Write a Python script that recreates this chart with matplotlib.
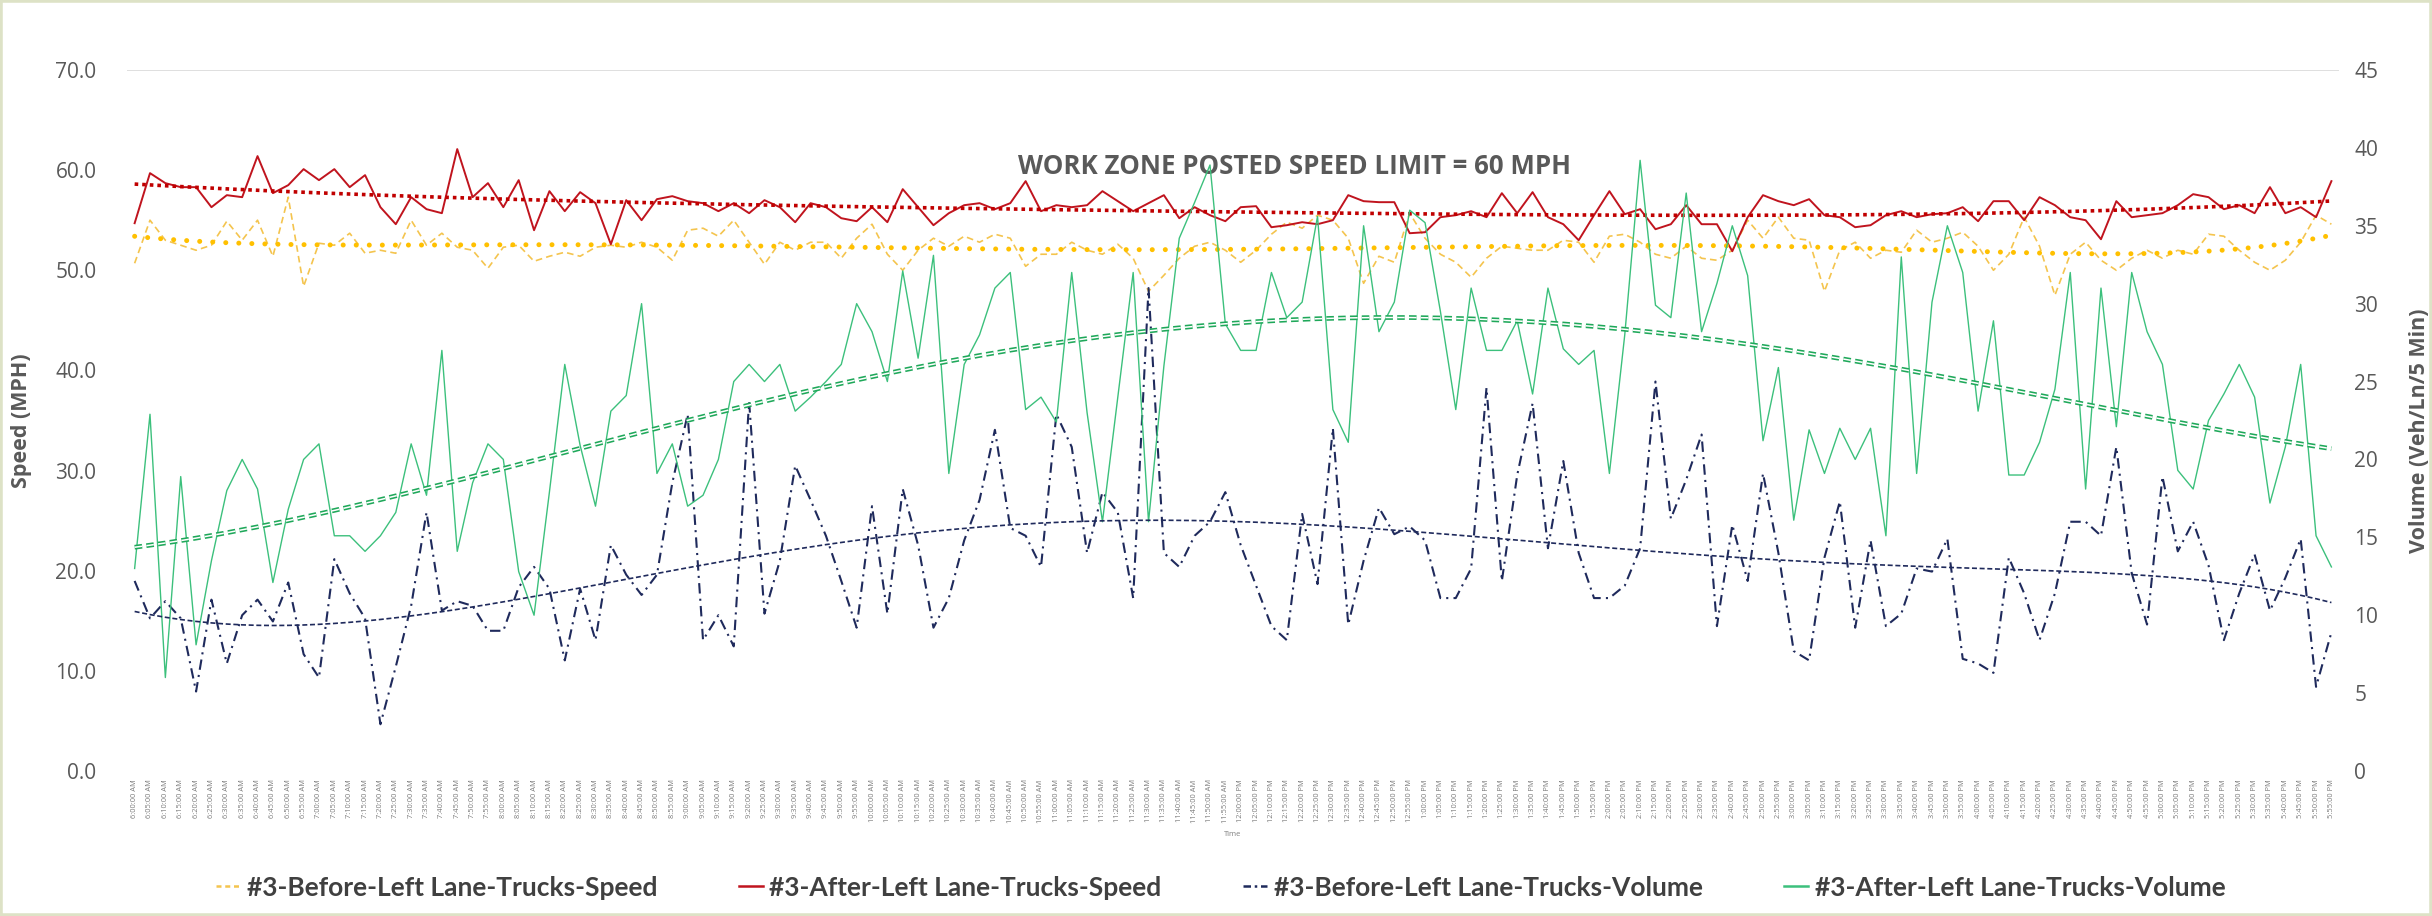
import numpy as np
import pandas as pd
import matplotlib
matplotlib.use("Agg")
import matplotlib.pyplot as plt
from matplotlib.lines import Line2D
from matplotlib.patches import Rectangle
from numpy.polynomial import Polynomial

# ---------------- data ----------------
time_labels = list(pd.date_range("2020-01-01 06:00", periods=144, freq="5min").strftime("%-I:%M:%S %p"))

before_speed = [
    50.7, 55.0, 53.0, 52.5, 52.0, 52.5, 54.9, 53.0, 55.0, 51.4, 57.3, 48.4, 52.7, 52.5, 53.7, 51.7,
    52.0, 51.7, 55.0, 52.5, 53.7, 52.3, 52.0, 50.2, 52.3, 52.5, 50.9, 51.4, 51.8, 51.4, 52.3, 52.5,
    52.3, 52.8, 52.3, 51.0, 54.0,
    54.2, 53.4, 55.0, 52.8, 50.6, 52.8, 52.0, 52.8, 52.8, 51.2, 53.2, 54.6, 51.6, 50.0, 52.0, 53.2,
    52.4, 53.4, 52.8, 53.6, 53.2, 50.4, 51.6, 51.6, 52.8, 52.0, 51.6, 52.6, 51.2, 47.9, 49.5, 51.2,
    52.4, 52.8, 52.0, 50.8, 52.0,
    53.6, 54.8, 54.2, 55.5, 55.0, 53.2, 48.7, 51.4, 50.8, 55.7, 53.2, 51.6, 50.8, 49.3, 51.2, 52.4,
    52.2, 52.0, 52.0, 53.0, 52.8, 50.8, 53.4, 53.6, 52.8, 51.6, 51.2, 52.4, 51.2, 51.0, 52.0, 55.0,
    53.2, 55.3, 53.2, 53.0, 47.9,
    52.0, 52.8, 51.2, 52.0, 51.8, 54.0, 52.8, 53.2, 53.8, 52.4, 50.0, 51.6, 55.3, 52.4, 47.5, 51.6,
    52.8, 51.0, 50.0, 51.2, 52.0, 51.2, 52.0, 51.6, 53.6, 53.4, 52.0, 50.8, 50.0, 51.0, 52.8, 55.5,
    54.6,
]

after_speed = [
    54.7, 59.7, 58.7, 58.3, 58.3, 56.3, 57.5, 57.3, 61.4, 57.7, 58.5, 60.1, 59.0, 60.1, 58.3, 59.5,
    56.3, 54.6, 57.3, 56.1, 55.7, 62.1, 57.3, 58.7, 56.3, 59.0, 54.0, 57.9, 55.9, 57.8, 56.7, 52.6,
    57.0, 55.0, 57.1, 57.4, 56.9,
    56.7, 55.9, 56.7, 55.7, 57.0, 56.3, 54.8, 56.7, 56.3, 55.2, 54.9, 56.3, 54.8, 58.1, 56.3, 54.5,
    55.7, 56.5, 56.7, 56.1, 56.7, 58.9, 55.9, 56.5, 56.3, 56.5, 57.9, 56.9, 55.9, 56.7, 57.5, 55.2,
    56.3, 55.5, 54.9, 56.3, 56.4,
    54.3, 54.5, 54.8, 54.6, 55.0, 57.5, 56.9, 56.8, 56.8, 53.7, 53.8, 55.3, 55.5, 55.9, 55.3, 57.7,
    55.7, 57.8, 55.3, 54.6, 53.0, 55.5, 57.9, 55.6, 56.1, 54.1, 54.6, 56.5, 54.6, 54.6, 51.9, 55.3,
    57.5, 56.9, 56.5, 57.1, 55.5,
    55.3, 54.3, 54.5, 55.5, 55.9, 55.3, 55.6, 55.7, 56.3, 54.9, 56.9, 56.9, 55.0, 57.3, 56.5, 55.3,
    55.0, 53.1, 56.9, 55.3, 55.5, 55.7, 56.5, 57.6, 57.3, 56.1, 56.5, 55.7, 58.3, 55.7, 56.3, 55.3,
    58.9,
]

before_volume = [
    12.2, 9.8, 10.9, 9.8, 5.1, 11.0, 6.9, 10.0, 11.0, 9.6, 12.1, 7.5, 6.0, 13.6, 11.4, 9.8,
    3.0, 6.7, 10.6, 16.6, 10.3, 10.9, 10.6, 9.0, 9.0, 11.8, 13.1, 11.7, 7.1, 11.7, 8.4, 14.5,
    12.6, 11.3, 12.6, 18.5, 22.9,
    8.4, 10.0, 8.0, 23.7, 10.1, 13.5, 19.6, 17.4, 15.1, 12.2, 9.2, 17.0, 10.1, 18.1, 14.5, 9.2,
    11.1, 14.8, 17.4, 21.9, 15.6, 15.1, 13.1, 22.9, 20.8, 14.0, 17.9, 16.6, 11.1, 31.0, 14.0, 13.1,
    15.1, 16.0, 17.9, 14.5, 11.9,
    9.3, 8.4, 16.5, 12.0, 22.0, 9.4, 13.5, 16.9, 15.2, 15.7, 14.8, 11.1, 11.1, 13.0, 24.6, 12.2,
    19.0, 23.6, 14.3, 19.9, 14.0, 11.1, 11.1, 11.9, 14.3, 25.0, 16.2, 18.7, 21.6, 9.3, 15.8, 12.2,
    19.1, 14.0, 7.7, 7.1, 13.7,
    17.3, 9.2, 14.8, 9.3, 10.1, 13.0, 12.8, 14.9, 7.2, 6.9, 6.3, 13.7, 11.4, 8.4, 11.4, 16.0,
    16.0, 15.1, 20.8, 12.7, 9.4, 18.9, 14.1, 16.0, 13.2, 8.4, 11.4, 13.9, 10.3, 12.4, 14.9, 5.4,
    8.9,
]

after_volume = [
    13.0, 22.9, 6.0, 18.9, 8.1, 13.5, 18.0, 20.0, 18.1, 12.1, 16.8, 20.0, 21.0, 15.1, 15.1, 14.1,
    15.1, 16.6, 21.0, 17.7, 27.0, 14.1, 18.5, 21.0, 20.0, 12.8, 10.0, 17.9, 26.1, 20.9, 17.0, 23.1,
    24.1, 30.0, 19.1, 21.0, 17.0,
    17.7, 20.0, 25.0, 26.1, 25.0, 26.1, 23.1, 24.0, 25.0, 26.1, 30.0, 28.2, 25.0, 32.1, 26.5, 33.1,
    19.1, 26.1, 28.0, 31.0, 32.0, 23.2, 24.0, 22.4, 32.0, 23.0, 16.0, 24.0, 32.0, 16.0, 26.0, 34.2,
    36.5, 38.9, 28.7, 27.0, 27.0,
    32.0, 29.1, 30.1, 35.6, 23.2, 21.1, 35.0, 28.2, 30.1, 36.0, 35.2, 29.5, 23.2, 31.0, 27.0, 27.0,
    28.9, 24.2, 31.0, 27.1, 26.1, 27.0, 19.1, 28.0, 39.2, 29.9, 29.1, 37.1, 28.2, 31.3, 35.0, 31.8,
    21.2, 25.9, 16.1, 21.9, 19.1,
    22.0, 20.0, 22.0, 15.1, 33.0, 19.1, 30.1, 35.0, 32.0, 23.1, 28.9, 19.0, 19.0, 21.1, 24.5, 32.0,
    18.1, 31.0, 22.1, 32.0, 28.2, 26.1, 19.3, 18.1, 22.5, 24.2, 26.1, 24.0, 17.2, 20.8, 26.1, 15.1,
    13.1,
]

series_names = [
    "#3-Before-Left Lane-Trucks-Speed",
    "#3-After-Left Lane-Trucks-Speed",
    "#3-Before-Left Lane-Trucks-Volume",
    "#3-After-Left Lane-Trucks-Volume",
]
speed_ticks = [0, 10, 20, 30, 40, 50, 60, 70]
volume_ticks = [0, 5, 10, 15, 20, 25, 30, 35, 40, 45]
annotation = "WORK ZONE POSTED SPEED LIMIT = 60 MPH"

# ---------------- style ----------------
C_YEL = "#F4C44E"
C_YEL_T = "#FFC000"
C_RED = "#C0141E"
C_RED_T = "#C00000"
C_BLU = "#1F2A5C"
C_GRN = "#3CC07C"
C_GRN_T = "#1FA85A"
TXT = "#595959"

plt.rcParams["font.family"] = ["Open Sans", "DejaVu Sans"]

fig = plt.figure(figsize=(24.32, 9.16), dpi=100)
fig.patch.set_facecolor("white")
ax = fig.add_axes([0.0522, 0.1583, 0.9096, 0.7653])
ax2 = ax.twinx()

x = np.arange(len(time_labels))

def trend(vals, deg):
    p = Polynomial.fit(x, np.asarray(vals, float), deg)
    return p(x)

# primary (speed)
ax.plot(x, before_speed, color=C_YEL, lw=1.2, ls=(0, (4, 2.5)), zorder=3)
ax.plot(x, after_speed, color=C_RED, lw=1.4, zorder=4)
ax.plot(x, trend(before_speed, 6), color=C_YEL_T, lw=3.6, ls=(0, (0.01, 2.6)),
        dash_capstyle="round", zorder=5)
ax.plot(x, trend(after_speed, 4), color=C_RED_T, lw=2.6, ls=(0, (1, 1.1)), zorder=5)

# secondary (volume)
ax2.plot(x, before_volume, color=C_BLU, lw=1.5, ls=(0, (5, 2.5, 1, 2.5)), zorder=3)
ax2.plot(x, after_volume, color=C_GRN, lw=1.0, zorder=4)
ax2.plot(x, trend(before_volume, 6), color=C_BLU, lw=1.2, ls=(0, (3, 1.6)), zorder=5)
gt = trend(after_volume, 4)
ax2.plot(x, gt, color=C_GRN_T, lw=3.4, ls=(0, (1.6, 0.9)), zorder=5)
ax2.plot(x, gt, color="white", lw=1.1, ls=(0, (1.6 * 3.4 / 1.1, 0.9 * 3.4 / 1.1)), zorder=6)

ax.set_xlim(-0.5, len(x) - 0.5)
ax.set_ylim(0, 70)
ax2.set_ylim(0, 45)
ax.axhline(70, color="#D9D9D9", lw=1.2, zorder=1)

ax.set_yticks(speed_ticks)
ax.set_yticklabels([f"{v:.1f}" for v in speed_ticks])
ax2.set_yticks(volume_ticks)
ax2.set_yticklabels([str(v) for v in volume_ticks])
ax.set_xticks(x)
ax.set_xticklabels(time_labels, rotation=90, fontsize=5.4, color="#7A7A7A")

ax.tick_params(axis="y", length=0, pad=22, labelsize=15, labelcolor=TXT)
ax2.tick_params(axis="y", length=0, pad=11, labelsize=15, labelcolor=TXT)
ax.tick_params(axis="x", length=0, pad=6)

for a in (ax, ax2):
    for s in a.spines.values():
        s.set_visible(False)

ax.set_ylabel("Speed (MPH)", fontsize=15.5, fontweight="bold", color=TXT)
ax.yaxis.set_label_coords(-0.043, 0.50)
ax2.set_ylabel("Volume (Veh/Ln/5 Min)", fontsize=15.5, fontweight="bold", color=TXT)
ax2.yaxis.set_label_coords(1.0316, 0.485)
ax.set_xlabel("Time", fontsize=5.5, color="#808080", labelpad=6)

ax.text(0.528, 0.863, annotation, transform=ax.transAxes, ha="center", va="center",
        fontsize=18.6, fontweight="bold", color=TXT, zorder=10)

handles = [
    Line2D([], [], color=C_YEL, lw=1.8, ls=(0, (2, 1.5))),
    Line2D([], [], color=C_RED, lw=1.8),
    Line2D([], [], color=C_BLU, lw=1.8, ls=(0, (3, 1.5, 1, 1.5))),
    Line2D([], [], color=C_GRN, lw=1.8),
]
leg = fig.legend(handles, series_names, loc="center", bbox_to_anchor=(0.502, 0.031), ncol=4,
                 frameon=False, handlelength=0.9, handletextpad=0.25, columnspacing=3.1,
                 prop={"family": ["Lato", "DejaVu Sans"], "weight": "bold", "size": 19})
for t in leg.get_texts():
    t.set_color("#404040")

fig.patches.append(Rectangle((0, 0), 1, 1, transform=fig.transFigure, fill=False,
                             edgecolor="#DDE2C6", lw=4, zorder=0))

fig.savefig("out.png", dpi=100, facecolor="white")
